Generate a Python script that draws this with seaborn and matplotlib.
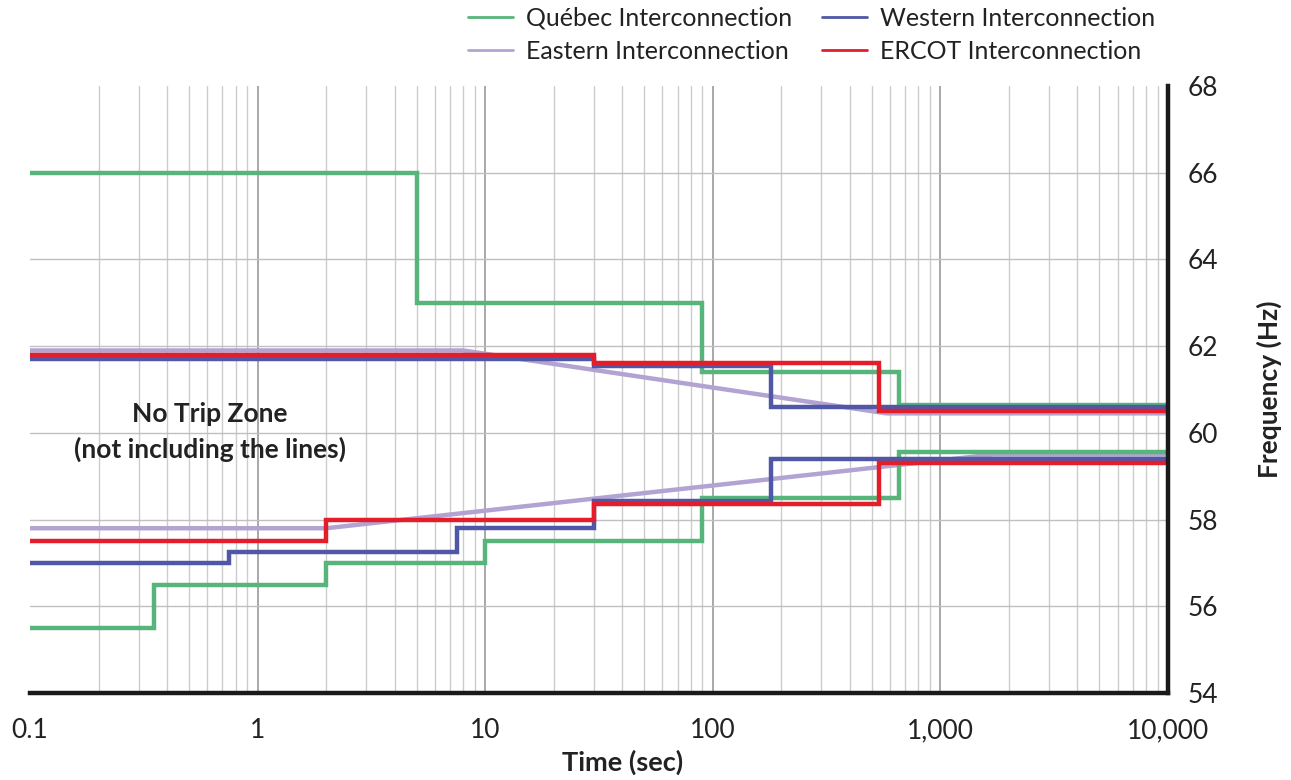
import numpy as np
import pandas as pd
import matplotlib
matplotlib.use("Agg")
import matplotlib.pyplot as plt
from matplotlib.lines import Line2D
from matplotlib.ticker import FixedLocator, FixedFormatter, NullFormatter
import seaborn as sns

# ---------------- data ----------------
# step curves: value i holds from time i to time i+1
quebec_high_t = [0.1, 5, 90, 660, 10000]
quebec_high_f = [66.0, 63.0, 61.4, 60.65]
quebec_low_t = [0.1, 0.35, 2, 10, 90, 660, 10000]
quebec_low_f = [55.5, 56.5, 57.0, 57.5, 58.5, 59.55]

western_high_t = [0.1, 30, 180, 10000]
western_high_f = [61.7, 61.55, 60.6]
western_low_t = [0.1, 0.75, 7.5, 30, 180, 10000]
western_low_f = [57.0, 57.25, 57.8, 58.42, 59.4]

ercot_high_t = [0.1, 30, 540, 10000]
ercot_high_f = [61.8, 61.62, 60.5]
ercot_low_t = [0.1, 2, 30, 540, 10000]
ercot_low_f = [57.5, 58.0, 58.36, 59.3]

# Eastern: polyline vertices (straight in log-time)
eastern_high_t = [0.1, 8, 580, 10000]
eastern_high_f = [61.9, 61.9, 60.45, 60.45]
eastern_low_t = [0.1, 2, 1700, 10000]
eastern_low_f = [57.8, 57.8, 59.5, 59.5]

curve_names = ["Eastern Interconnection", "Québec Interconnection",
               "Western Interconnection", "ERCOT Interconnection"]
colors = {"Québec Interconnection": "#57B47A",
          "Western Interconnection": "#4F57A6",
          "Eastern Interconnection": "#B3A3D2",
          "ERCOT Interconnection": "#E31E2A"}

x_ticks = [0.1, 1, 10, 100, 1000, 10000]
x_labels = ["0.1", "1", "10", "100", "1,000", "10,000"]
y_ticks = [54, 56, 58, 60, 62, 64, 66, 68]


def step_vertices(times, freqs):
    xs, ys = [times[0]], [freqs[0]]
    for i in range(1, len(freqs)):
        xs += [times[i], times[i]]
        ys += [freqs[i - 1], freqs[i]]
    xs.append(times[-1])
    ys.append(freqs[-1])
    return xs, ys


rows = []
def add(name, seg, xs, ys):
    for k, (x, y) in enumerate(zip(xs, ys)):
        rows.append({"curve": name, "seg": seg, "order": k, "time": x, "freq": y})

add("Eastern Interconnection", "high", eastern_high_t, eastern_high_f)
add("Eastern Interconnection", "low", eastern_low_t, eastern_low_f)
add("Québec Interconnection", "high", *step_vertices(quebec_high_t, quebec_high_f))
add("Québec Interconnection", "low", *step_vertices(quebec_low_t, quebec_low_f))
add("Western Interconnection", "high", *step_vertices(western_high_t, western_high_f))
add("Western Interconnection", "low", *step_vertices(western_low_t, western_low_f))
add("ERCOT Interconnection", "high", *step_vertices(ercot_high_t, ercot_high_f))
add("ERCOT Interconnection", "low", *step_vertices(ercot_low_t, ercot_low_f))
df = pd.DataFrame(rows)

# ---------------- plot ----------------
sns.set_theme(style="white")
plt.rcParams["font.family"] = ["Lato", "DejaVu Sans"]

fig = plt.figure(figsize=(12.91, 7.80), dpi=100)
ax = fig.add_axes([30 / 1291, 1 - 693 / 780, (1168 - 30) / 1291, (693 - 86) / 780])

sns.lineplot(data=df, x="time", y="freq", hue="curve", units="seg",
             estimator=None, sort=False, hue_order=curve_names,
             palette=colors, linewidth=3.2, legend=False, ax=ax,
             solid_capstyle="butt", solid_joinstyle="miter")

ax.set_xscale("log")
ax.set_xlim(0.1, 10000)
ax.set_ylim(54, 68)

# grid
ax.xaxis.set_major_locator(FixedLocator(x_ticks))
ax.xaxis.set_major_formatter(FixedFormatter(x_labels))
minor = [m * 10.0 ** e for e in range(-1, 4) for m in range(2, 10)]
ax.xaxis.set_minor_locator(FixedLocator(minor))
ax.xaxis.set_minor_formatter(NullFormatter())
ax.set_yticks(y_ticks)
ax.grid(True, which="major", axis="x", color="#a8a8a8", linewidth=1.4)
ax.grid(True, which="minor", axis="x", color="#cccccc", linewidth=1.0)
ax.grid(True, which="major", axis="y", color="#c0c0c0", linewidth=1.0)
ax.set_axisbelow(True)

for s in ["left", "top"]:
    ax.spines[s].set_visible(False)
for s in ["bottom", "right"]:
    ax.spines[s].set_visible(True)
    ax.spines[s].set_color("#1a1a1a")
    ax.spines[s].set_linewidth(3.2)
    ax.spines[s].set_zorder(5)

ax.yaxis.tick_right()
ax.yaxis.set_label_position("right")
ax.tick_params(axis="y", which="both", length=0, pad=14, labelsize=19, labelcolor="#222222")
ax.tick_params(axis="x", which="major", direction="out", length=6, width=3,
               color="#1a1a1a", pad=12, labelsize=19, labelcolor="#222222")
ax.tick_params(axis="x", which="minor", length=0)

fig.canvas.draw()
ax.xaxis.get_major_ticks()[0].gridline.set_visible(False)
ax.yaxis.get_major_ticks()[-1].gridline.set_visible(False)

ax.set_xlabel("Time (sec)", fontsize=19.5, fontweight="bold", color="#222222",
              labelpad=5, x=0.521)
ax.set_ylabel("Frequency (Hz)", fontsize=19, fontweight="bold", color="#222222", labelpad=28)

ax.text(0.158, 0.43, "No Trip Zone\n(not including the lines)",
        transform=ax.transAxes, ha="center", va="center", fontsize=19,
        fontweight="bold", color="#222222", linespacing=1.5)

handles = [Line2D([], [], color=colors[n], linewidth=2) for n in
           ["Québec Interconnection", "Eastern Interconnection",
            "Western Interconnection", "ERCOT Interconnection"]]
labels = ["Québec Interconnection", "Eastern Interconnection",
          "Western Interconnection", "ERCOT Interconnection"]
fig.legend(handles, labels, ncol=2, loc="upper center",
           bbox_to_anchor=(0.6286, 1.02), frameon=False, fontsize=18,
           handlelength=1.8, handletextpad=0.5, columnspacing=1.2,
           labelspacing=0.4, labelcolor="#222222")

fig.savefig("out.png", dpi=100)
